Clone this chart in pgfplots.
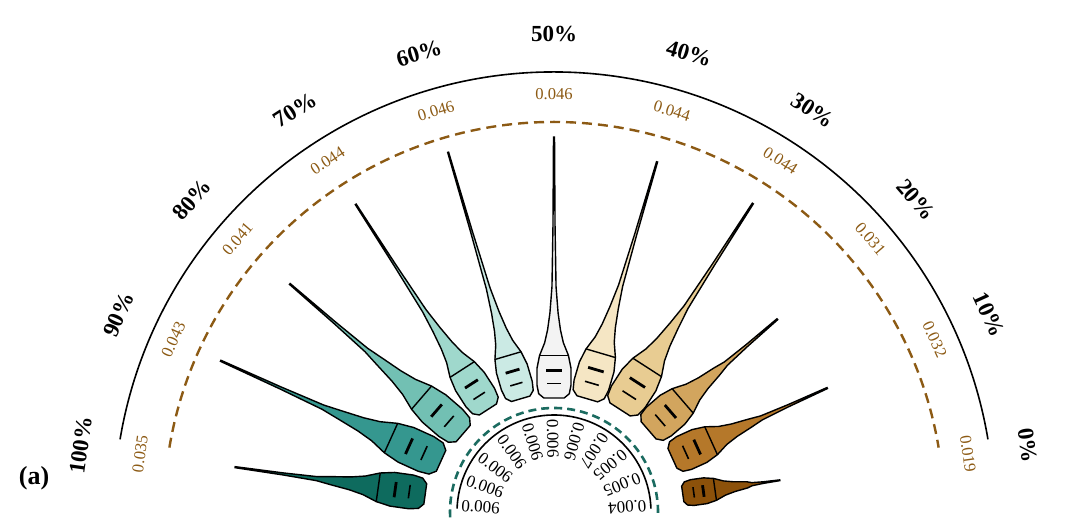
\documentclass[border=0pt]{standalone}
\usepackage{pgfplots}
\pgfplotsset{compat=1.18}
\usepackage{pgfplotstable}
\usepackage{fontspec}
\setmainfont{Liberation Serif}
\definecolor{c0}{HTML}{8C510A}
\definecolor{c1}{HTML}{B5782A}
\definecolor{c2}{HTML}{D2A55E}
\definecolor{c3}{HTML}{E8CC92}
\definecolor{c4}{HTML}{F5E6C4}
\definecolor{c5}{HTML}{F3F3F3}
\definecolor{c6}{HTML}{CBEAE4}
\definecolor{c7}{HTML}{9FD8CC}
\definecolor{c8}{HTML}{72C0B3}
\definecolor{c9}{HTML}{35978F}
\definecolor{c10}{HTML}{0E6B5E}
\definecolor{lbl}{HTML}{8C5A14}
\definecolor{grn}{HTML}{1B6B60}
\pgfplotstableread{
t q s
0 0 -0.6
0.05 0 -0.9
0.15 0 -1
0.35 0 -1
0.5 0 -0.85
0.65 0 -0.55
0.8 0 -0.38
1 0 -0.24
1 0.15 -0.12
1 0.5 -0.06
1 1 -0.03
1 1 0.03
1 0.5 0.06
1 0.15 0.12
1 0 0.24
0.8 0 0.38
0.65 0 0.55
0.5 0 0.85
0.35 0 1
0.15 0 1
0.05 0 0.9
0 0 0.6
}\shape
% a r0 L W R color
\newcommand\violin[6]{%
\addplot[draw=black, line width=0.7pt, fill=#6] table[
 x expr={(#2+\thisrow{t}*#3+\thisrow{q}*(#5-#2-#3))*cos(#1)-(\thisrow{s}*#4)*sin(#1)},
 y expr={(#2+\thisrow{t}*#3+\thisrow{q}*(#5-#2-#3))*sin(#1)+(\thisrow{s}*#4)*cos(#1)}] {\shape} -- cycle;
\addplot[black, line width=0.7pt] table[row sep=\\,
 x expr={(#2+\thisrow{t}*#3)*cos(#1)-(\thisrow{s}*#4)*sin(#1)},
 y expr={(#2+\thisrow{t}*#3)*sin(#1)+(\thisrow{s}*#4)*cos(#1)}] {t s\\0.5 -0.85\\0.5 0.85\\};
\addplot[black, line width=1.4pt] table[row sep=\\,
 x expr={(#2+\thisrow{t}*#3)*cos(#1)-(\thisrow{s}*#4)*sin(#1)},
 y expr={(#2+\thisrow{t}*#3)*sin(#1)+(\thisrow{s}*#4)*cos(#1)}] {t s\\0.32 -0.45\\0.32 0.45\\};
\addplot[black, line width=0.8pt] table[row sep=\\,
 x expr={(#2+\thisrow{t}*#3)*cos(#1)-(\thisrow{s}*#4)*sin(#1)},
 y expr={(#2+\thisrow{t}*#3)*sin(#1)+(\thisrow{s}*#4)*cos(#1)}] {t s\\0.17 -0.4\\0.17 0.4\\};
}
\newcommand\lab[3]{%
\node[font=\bfseries\fontsize{11.5}{13}\selectfont, rotate=#1-90] at (axis cs:{478*cos(#1)},{478*sin(#1)}) {#2\%};
\node[font=\fontsize{8.3}{9}\selectfont, text=lbl, rotate=#1-90] at (axis cs:{418*cos(#1)},{418*sin(#1)}) {#3};
}
\newcommand\inn[2]{%
\node[font=\fontsize{8.5}{9}\selectfont, rotate=#1-180, anchor=west, inner sep=0pt] at (axis cs:{93*cos(#1)},{93*sin(#1)}) {#2};
}
\begin{document}
\begin{tikzpicture}
\begin{axis}[x=0.5pt, y=0.5pt, xmin=-554, xmax=526, ymin=-16, ymax=512,
 hide axis, clip=false]
\draw[black, line width=0.8pt] (axis cs:{440*cos(170.5)},{440*sin(170.5)}) arc[start angle=170.5, end angle=9.5, radius=220pt];
\draw[lbl, line width=1.2pt, dash pattern=on 5pt off 3pt] (axis cs:{390*cos(170.5)},{390*sin(170.5)}) arc[start angle=170.5, end angle=9.5, radius=195pt];
\draw[black, line width=0.8pt] (axis cs:{97*cos(178)},{97*sin(178)}) arc[start angle=178, end angle=2, radius=48.5pt];
\draw[grn, line width=1.3pt, dash pattern=on 4pt off 2.5pt] (axis cs:{104*cos(183)},{104*sin(183)}) arc[start angle=183, end angle=-3, radius=52pt];
\violin{172}{130}{95}{17}{322}{c10}
\violin{155.6}{124}{110}{19}{366}{c9}
\violin{139.2}{120}{110}{18}{349}{c8}
\violin{122.8}{122}{95}{17}{366}{c7}
\violin{106.4}{118}{90}{16}{375}{c6}
\violin{90}{114}{85}{17}{375}{c5}
\violin{73.6}{118}{95}{18}{365}{c4}
\violin{57.2}{122}{100}{20}{367}{c3}
\violin{40.8}{125}{90}{19}{295}{c2}
\violin{24.4}{130}{85}{18}{300}{c1}
\violin{8}{130}{65}{13}{228}{c0}
\lab{172}{100}{0.035}
\lab{155.6}{90}{0.043}
\lab{139.2}{80}{0.041}
\lab{122.8}{70}{0.044}
\lab{106.4}{60}{0.046}
\lab{90}{50}{0.046}
\lab{73.6}{40}{0.044}
\lab{57.2}{30}{0.044}
\lab{40.8}{20}{0.031}
\lab{24.4}{10}{0.032}
\lab{8}{0}{0.019}
\inn{176}{0.006}
\inn{160}{0.006}
\inn{143}{0.006}
\inn{125}{0.006}
\inn{107}{0.006}
\inn{91}{0.006}
\inn{74}{0.006}
\inn{57}{0.007}
\inn{40}{0.005}
\inn{22}{0.005}
\inn{4}{0.004}
\node[font=\bfseries\fontsize{13}{15}\selectfont] at (axis cs:-520,34) {(a)};
\end{axis}
\pgfresetboundingbox
\path (current axis.south west) rectangle (current axis.north east);
\end{tikzpicture}
\end{document}
